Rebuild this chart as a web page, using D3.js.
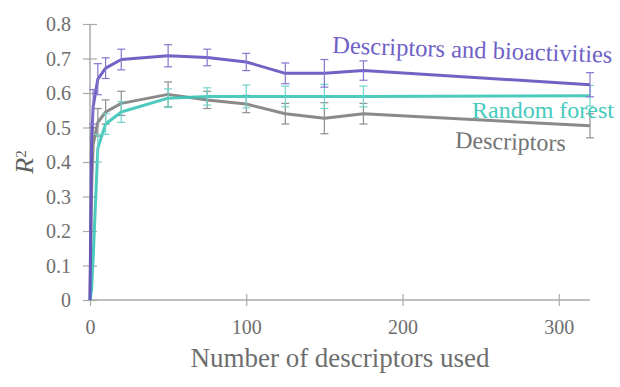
<!DOCTYPE html>
<html>
<head>
<meta charset="utf-8">
<script src="https://cdn.jsdelivr.net/npm/d3@7"></script>
<style>
  html, body { margin: 0; padding: 0; background: #fff; }
  svg { display: block; }
  text { font-family: "Liberation Serif", "Times New Roman", "DejaVu Serif", serif; }
</style>
</head>
<body>
<svg id="chart" width="620" height="387"></svg>
<script>
// ---- data ----
const xValues      = [0, 1, 2, 5, 10, 20, 50, 75, 100, 125, 150, 175, 320];
const bioValues    = [0, 0.46, 0.56, 0.64, 0.672, 0.697, 0.708, 0.703, 0.69, 0.657, 0.657, 0.665, 0.624];
const bioErrors    = [null, null, 0.05, 0.045, 0.03, 0.03, 0.032, 0.024, 0.025, 0.03, 0.04, 0.028, 0.035];
const descValues   = [0, 0.32, 0.45, 0.515, 0.545, 0.57, 0.596, 0.58, 0.568, 0.54, 0.527, 0.54, 0.505];
const descErrors   = [null, null, 0.05, 0.04, 0.035, 0.035, 0.036, 0.025, 0.025, 0.03, 0.045, 0.03, 0.035];
const rfValues     = [0, 0.03, 0.12, 0.44, 0.51, 0.545, 0.585, 0.59, 0.59, 0.59, 0.59, 0.59, 0.592];
const rfErrors     = [null, null, null, 0.04, 0.03, 0.03, 0.027, 0.025, 0.033, 0.03, 0.035, 0.03, 0.03];
const xTicks       = [0, 100, 200, 300];
const yTicks       = [0, 0.1, 0.2, 0.3, 0.4, 0.5, 0.6, 0.7, 0.8];
const seriesNames  = ["Descriptors and bioactivities", "Random forest", "Descriptors"];
const xTitle       = "Number of descriptors used";

const svg = d3.select("#chart");
const x = d3.scaleLinear().domain([0, 320]).range([90, 590]);
const y = d3.scaleLinear().domain([0, 0.8]).range([300, 24]);

const axisColor = "#aaaaaa";
const tickTextColor = "#6e6e6e";

// y axis
const yAxis = svg.append("g").attr("transform", `translate(${x(0)},0)`)
  .call(d3.axisLeft(y).tickValues(yTicks).tickSize(7).tickPadding(12)
    .tickFormat(d => d === 0 ? "0" : d3.format(".1f")(d)));
yAxis.attr("font-family", null);
yAxis.select(".domain").attr("stroke", axisColor).attr("stroke-width", 1.5).attr("d", `M0,${y(0.8)}V${y(0)}`);
yAxis.selectAll(".tick line").attr("stroke", axisColor).attr("stroke-width", 1.2).attr("x1", 7);
yAxis.selectAll(".tick text").attr("fill", tickTextColor).style("font-size", "20px").attr("dy", "0.34em");

// x axis
const xAxis = svg.append("g").attr("transform", `translate(0,${y(0)})`)
  .call(d3.axisBottom(x).tickValues(xTicks).tickSize(6).tickPadding(14));
xAxis.attr("font-family", null);
xAxis.select(".domain").attr("stroke", axisColor).attr("stroke-width", 1.5).attr("d", `M${x(0)},0H${x(320)}`);
xAxis.selectAll(".tick line").attr("stroke", axisColor).attr("stroke-width", 1.2).attr("y1", -6);
xAxis.selectAll(".tick text").attr("fill", tickTextColor).style("font-size", "20px").attr("dy", "0.71em");

// series
const series = [
  { vals: bioValues,  errs: bioErrors,  color: "#6650c0", errColor: "#8577cf" },
  { vals: rfValues,   errs: rfErrors,   color: "#38c4b6", errColor: "#6fd4ca" },
  { vals: descValues, errs: descErrors, color: "#7d7d7d", errColor: "#8e8e8e" }
];
const line = d3.line().x(d => x(d[0])).y(d => y(d[1]));

// draw in order: descriptors, random forest, bio
[series[2], series[1], series[0]].forEach(s => {
  const pts = xValues.map((xv, i) => [xv, s.vals[i], s.errs[i]]);
  svg.append("path").datum(pts).attr("d", line)
    .attr("fill", "none").attr("stroke", s.color).attr("stroke-width", 3)
    .attr("stroke-linejoin", "round").attr("stroke-opacity", 0.9);
  const eb = svg.append("g").attr("stroke", s.errColor).attr("stroke-width", 1.2);
  pts.filter(p => p[2] != null).forEach(p => {
    const cx = x(p[0]);
    const y1 = y(p[1] - p[2]), y2 = y(p[1] + p[2]);
    eb.append("line").attr("x1", cx).attr("x2", cx).attr("y1", y1).attr("y2", y2);
    eb.append("line").attr("x1", cx - 4).attr("x2", cx + 4).attr("y1", y1).attr("y2", y1);
    eb.append("line").attr("x1", cx - 4).attr("x2", cx + 4).attr("y1", y2).attr("y2", y2);
  });
});

// series labels
svg.append("text").text(seriesNames[0]).attr("x", 332).attr("y", 53)
  .attr("transform", "rotate(2,332,53)").attr("fill", "#6f5fc6").style("font-size", "24.5px");
svg.append("text").text(seriesNames[1]).attr("x", 472).attr("y", 118)
  .attr("fill", "#45cabc").style("font-size", "24px");
svg.append("text").text(seriesNames[2]).attr("x", 455).attr("y", 148)
  .attr("transform", "rotate(1.5,455,148)").attr("fill", "#737373").style("font-size", "24px");

// axis titles
svg.append("text").text(xTitle).attr("x", 340).attr("y", 367).attr("text-anchor", "middle")
  .attr("fill", "#6e6e6e").style("font-size", "27px");

const rt = svg.append("text").attr("transform", "translate(33,162) rotate(-90)")
  .attr("text-anchor", "middle").attr("fill", "#5e5e5e").style("font-size", "26px");
rt.append("tspan").text("R").style("font-style", "italic");
rt.append("tspan").text("2").attr("dy", "-0.45em").style("font-size", "15px");
</script>
</body>
</html>
